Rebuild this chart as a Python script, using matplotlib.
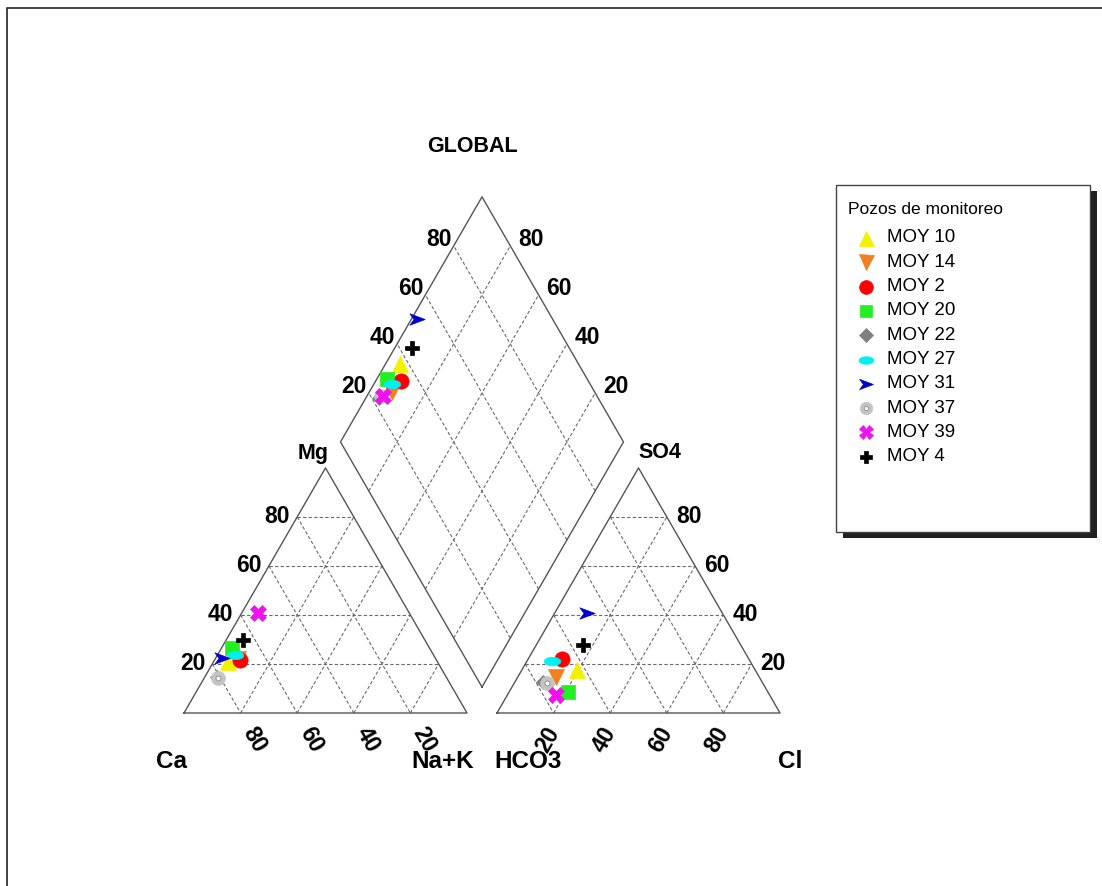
import numpy as np
import matplotlib.pyplot as plt
from matplotlib.path import Path
from matplotlib.patches import Rectangle

# meq %
samples = ['MOY 10', 'MOY 14', 'MOY 2', 'MOY 20', 'MOY 22',
           'MOY 27', 'MOY 31', 'MOY 37', 'MOY 39', 'MOY 4']
ca = [74.1, 70.0, 69.4, 69.8, 81.0, 70.1, 75.4, 80.8, 53.5, 64.3]
mg = [20.8, 22.0, 21.6, 26.5, 14.5, 23.7, 22.4, 14.3, 41.0, 29.8]
nak = [5.1, 8.0, 9.0, 3.7, 4.5, 6.2, 2.2, 4.9, 5.5, 5.9]
hco3 = [62.9, 71.8, 66.0, 70.6, 77.4, 70.0, 47.8, 76.2, 75.6, 55.7]
so4 = [17.6, 14.7, 22.0, 8.6, 12.6, 21.2, 40.8, 12.2, 7.3, 27.8]
cl = [19.5, 13.5, 12.0, 20.8, 10.0, 8.8, 11.4, 11.6, 17.1, 16.5]
ticks = [20, 40, 60, 80]

H = np.sqrt(3) / 2
G = 30 / 283          # gap between the two triangles
PX = 1 / 283          # one pixel in diagram units
BX, BY = 1 + G / 2, G * H   # bottom vertex of the diamond


def cat_xy(c, m, n):
    t = c + m + n
    return n / t + m / t / 2, m / t * H


def an_xy(h, s, c):
    t = h + s + c
    return 1 + G + c / t + s / t / 2, s / t * H


def dia_xy(s, t):
    return BX + 0.5 * (t - s), BY + H * (s + t)


def px(x, y):
    return (x - 184) * PX, (713 - y) * PX


ellipse = [(np.cos(a), 0.5 * np.sin(a)) for a in np.linspace(0, 2 * np.pi, 30)]
arrow = Path([(-1, 0.75), (1, 0), (-1, -0.75), (-0.45, 0), (-1, 0.75)],
             [Path.MOVETO, Path.LINETO, Path.LINETO, Path.LINETO, Path.CLOSEPOLY])
styles = [
    dict(marker='^', color='#f2f200', ms=12),
    dict(marker='v', color='#f08020', ms=12),
    dict(marker='o', color='#ff0000', ms=11),
    dict(marker='s', color='#22ee22', ms=10),
    dict(marker='D', color='#7f7f7f', ms=7.5),
    dict(marker=ellipse, color='#00f0f0', ms=12),
    dict(marker=arrow, color='#0000cc', ms=11),
    dict(marker='o', color='#c4c4c4', ms=10),
    dict(marker='X', color='#f010f0', ms=11),
    dict(marker='P', color='black', ms=10),
]

fig = plt.figure(figsize=(11.02, 8.86), dpi=100)
ax = fig.add_axes([0, 0, 1, 1])
ax.set_xlim(-184 * PX, (1102 - 184) * PX)
ax.set_ylim((713 - 886) * PX, 713 * PX)
ax.axis('off')

edge = dict(color='#555555', lw=1.0, zorder=2)
grid = dict(color='#6a6a6a', lw=0.8, ls=(0, (3, 2)), zorder=1)

# outlines
ax.plot([0, 1, 0.5, 0], [0, 0, H, 0], **edge)
ax.plot([1 + G, 2 + G, 1.5 + G, 1 + G], [0, 0, H, 0], **edge)
d = [dia_xy(0, 0), dia_xy(1, 0), dia_xy(1, 1), dia_xy(0, 1), dia_xy(0, 0)]
ax.plot([p[0] for p in d], [p[1] for p in d], **edge)

# grid
for v in ticks:
    w = 100 - v
    for a, b in [((w, v, 0), (0, v, w)), ((v, w, 0), (v, 0, w)), ((w, 0, v), (0, w, v))]:
        p, q = cat_xy(*a), cat_xy(*b)
        ax.plot([p[0], q[0]], [p[1], q[1]], **grid)
        p, q = an_xy(*a), an_xy(*b)
        ax.plot([p[0], q[0]], [p[1], q[1]], **grid)
    f = v / 100
    for p, q in [(dia_xy(f, 0), dia_xy(f, 1)), (dia_xy(0, f), dia_xy(1, f))]:
        ax.plot([p[0], q[0]], [p[1], q[1]], **grid)

# tick labels
num = dict(fontsize=16.5, fontweight='bold', family=['Liberation Sans', 'DejaVu Sans'])
for v in ticks:
    f = v / 100
    x, y = cat_xy(100 - v, v, 0)
    ax.text(x - 7 * PX, y, str(v), ha='right', va='center', **num)
    x, y = cat_xy(v, 0, 100 - v)
    ax.text(x + 14 * PX, y - 27 * PX, str(v), ha='center', va='center',
            rotation=-60, rotation_mode='anchor', **num)
    x, y = an_xy(100 - v, 0, v)
    ax.text(x - 6 * PX, y - 27 * PX, str(v), ha='center', va='center',
            rotation=60, rotation_mode='anchor', **num)
    x, y = an_xy(0, v, 100 - v)
    ax.text(x + 9 * PX, y, str(v), ha='left', va='center', **num)
    x, y = dia_xy(1, f)
    ax.text(x - 2 * PX, y + 6 * PX, str(v), ha='right', va='center', **num)
    x, y = dia_xy(f, 1)
    ax.text(x + 8 * PX, y + 6 * PX, str(v), ha='left', va='center', **num)

# axis names
big = dict(fontsize=17.5, fontweight='bold', ha='center', va='center',
           family=['Liberation Sans', 'DejaVu Sans'])
for name, (x, y) in [('Ca', (172, 762)), ('Na+K', (443, 762)),
                     ('HCO3', (528, 762)), ('Cl', (790, 762))]:
    ax.text(*px(x, y), name, **big)
mid = dict(fontsize=15.5, fontweight='bold', ha='center', va='center',
           family=['Liberation Sans', 'DejaVu Sans'])
ax.text(*px(313, 453), 'Mg', **mid)
ax.text(*px(660, 453), 'SO4', **mid)
ax.text(*px(472, 147), 'GLOBAL', **mid)

# samples
for i, st in enumerate(styles):
    pts = [cat_xy(ca[i], mg[i], nak[i]), an_xy(hco3[i], so4[i], cl[i]),
           dia_xy((ca[i] + mg[i]) / (ca[i] + mg[i] + nak[i]),
                  (so4[i] + cl[i]) / (hco3[i] + so4[i] + cl[i]))]
    xs, ys = [p[0] for p in pts], [p[1] for p in pts]
    ax.plot(xs, ys, ls='none', marker=st['marker'], ms=st['ms'],
            mfc=st['color'], mec=st['color'], mew=0.5, zorder=3)
    if samples[i] == 'MOY 37':
        ax.plot(xs, ys, ls='none', marker='o', ms=3.5, mfc='white',
                mec='#999999', mew=0.8, zorder=3)

# legend box
x0, y0 = px(836, 532)
x1, y1 = px(1090, 185)
ax.add_patch(Rectangle((x0 + 7 * PX, y0 - 6 * PX), x1 - x0, y1 - y0,
                       fc='#222222', ec='none', zorder=4))
ax.add_patch(Rectangle((x0, y0), x1 - x0, y1 - y0, fc='white',
                       ec='#444444', lw=1.0, zorder=5))
ax.text(*px(848, 209), 'Pozos de monitoreo', fontsize=12.5, ha='left',
        va='center', family=['Liberation Sans', 'DejaVu Sans'], zorder=6)
for i, st in enumerate(styles):
    yy = 238 + 24.3 * i
    mx, my = px(866, yy)
    ax.plot([mx], [my], ls='none', marker=st['marker'], ms=st['ms'] * 0.9,
            mfc=st['color'], mec=st['color'], mew=0.5, zorder=6)
    if samples[i] == 'MOY 37':
        ax.plot([mx], [my], ls='none', marker='o', ms=3.2, mfc='white',
                mec='#999999', mew=0.8, zorder=6)
    ax.text(*px(887, yy), samples[i], fontsize=13.5, ha='left', va='center',
            family=['Liberation Sans', 'DejaVu Sans'], zorder=6)

# outer frame (top and left only visible)
ax.plot(*zip(px(7, 886), px(7, 8), px(1102, 8)), color='#333333', lw=1.3)

fig.savefig('out.png', dpi=100)
